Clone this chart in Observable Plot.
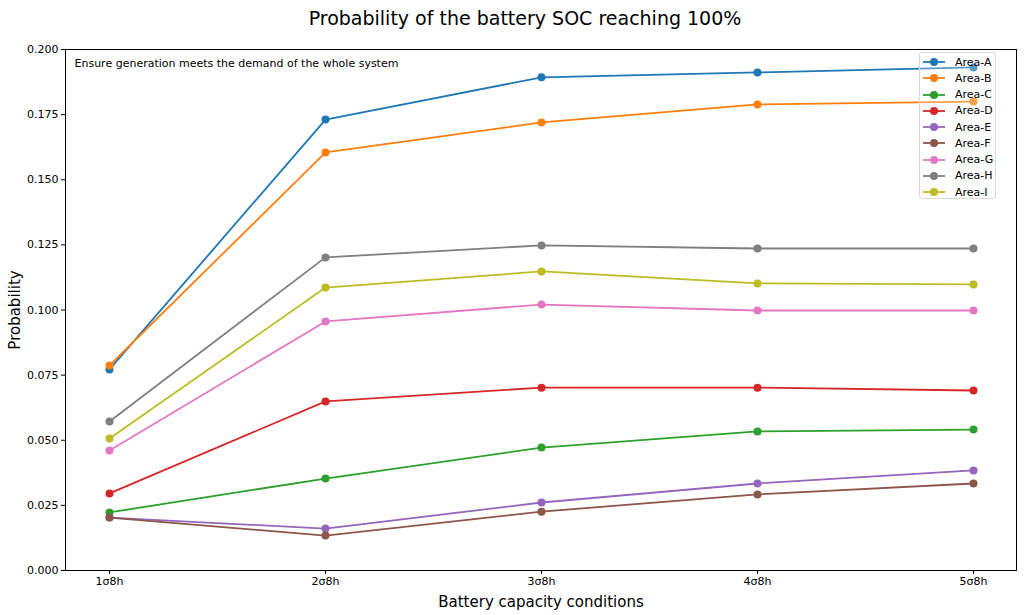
<!DOCTYPE html>
<html><head><meta charset="utf-8">
<script src="https://cdn.jsdelivr.net/npm/d3@7"></script>
<script src="https://cdn.jsdelivr.net/npm/@observablehq/plot@0.6"></script>
<style>
body{margin:0;background:#fff;font-family:"DejaVu Sans",sans-serif;}
#wrap{position:relative;width:1024px;height:615px;}
#title{height:35px;line-height:36px;text-align:center;font-size:19px;padding-left:26px;box-sizing:border-box;}
#legend{position:absolute;left:919px;top:52px;width:77px;height:147px;border:1px solid #d9d9d9;border-radius:3px;background:rgba(255,255,255,0.25);box-sizing:border-box;font-size:11px;white-space:nowrap;}
.item{position:absolute;left:2px;height:16px;display:flex;align-items:center;white-space:nowrap;}
.item svg{flex:none;}
.item span{margin-left:9px;}
</style></head>
<body><div id="wrap"><div id="title">Probability of the battery SOC reaching 100%</div><div id="chart"></div><div id="legend"></div></div>
<script>
const conditions = ["1σ8h","2σ8h","3σ8h","4σ8h","5σ8h"];
const areas = ["Area-A","Area-B","Area-C","Area-D","Area-E","Area-F","Area-G","Area-H","Area-I"];
const colors = ["#1f77b4","#ff7f0e","#2ca02c","#d62728","#9467bd","#8c564b","#e377c2","#7f7f7f","#bcbd22"];
const areaA = [0.0772,0.1731,0.1893,0.1912,0.1931];
const areaB = [0.0787,0.1605,0.1720,0.1789,0.1800];
const areaC = [0.0223,0.0353,0.0472,0.0534,0.0541];
const areaD = [0.0296,0.0649,0.0702,0.0702,0.0691];
const areaE = [0.0203,0.0161,0.0261,0.0334,0.0384];
const areaF = [0.0203,0.0134,0.0226,0.0292,0.0334];
const areaG = [0.0461,0.0956,0.1021,0.0998,0.0998];
const areaH = [0.0572,0.1202,0.1248,0.1236,0.1236];
const areaI = [0.0507,0.1086,0.1148,0.1102,0.1098];
const yTicks = [0,0.025,0.05,0.075,0.1,0.125,0.15,0.175,0.2];
const note = "Ensure generation meets the demand of the whole system";

const series = [areaA,areaB,areaC,areaD,areaE,areaF,areaG,areaH,areaI];
const data = [];
series.forEach((vals,i)=>vals.forEach((v,j)=>data.push({area:areas[i],cond:conditions[j],value:v})));

const chart = Plot.plot({
  width:1024, height:580,
  marginTop:14, marginBottom:45, marginLeft:65, marginRight:8,
  style:{fontFamily:"DejaVu Sans, sans-serif",fontSize:"11px",color:"#000",background:"#fff"},
  x:{type:"point",domain:conditions,padding:0.2,label:"Battery capacity conditions",labelAnchor:"center",labelOffset:36,tickSize:4,tickPadding:3},
  y:{domain:[0,0.2],ticks:yTicks,tickFormat:d3.format(".3f"),label:"Probability",labelAnchor:"center",labelArrow:"none",labelOffset:56,tickSize:4,tickPadding:3},
  color:{domain:areas,range:colors},
  marks:[
    Plot.line(data,{x:"cond",y:"value",z:"area",stroke:"area",strokeWidth:1.8}),
    Plot.dot(data,{x:"cond",y:"value",fill:"area",r:4}),
    Plot.frame({stroke:"#000",strokeWidth:1}),
    Plot.text([note],{frameAnchor:"top-left",dx:9,dy:10,text:d=>d,fontSize:11,fill:"#000",textAnchor:"start"})
  ]
});
document.getElementById("chart").appendChild(chart);
chart.querySelectorAll("g[aria-label='x-axis label'] text, g[aria-label='y-axis label'] text").forEach(t=>{t.style.fontSize="15px";});

const leg = document.getElementById("legend");
areas.forEach((a,i)=>{
  const d=document.createElement("div");d.className="item";d.style.top=(1+i*16.25)+"px";
  d.innerHTML=`<svg width="24" height="10"><line x1="1" y1="5" x2="23" y2="5" stroke="${colors[i]}" stroke-width="1.8"/><circle cx="12" cy="5" r="4" fill="${colors[i]}"/></svg><span>${a}</span>`;
  leg.appendChild(d);
});
</script></body></html>
